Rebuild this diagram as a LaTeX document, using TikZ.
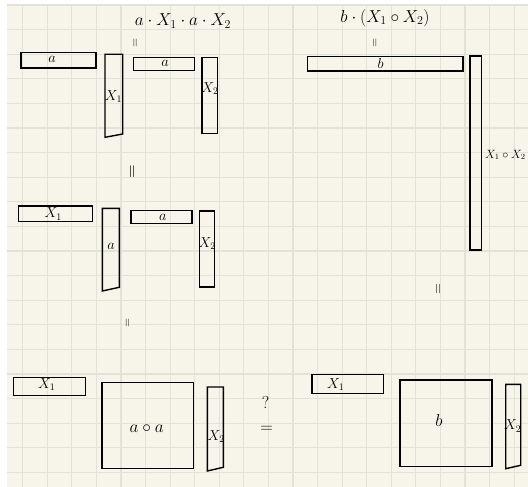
\documentclass[tikz,border=0pt]{standalone}
\usepackage{amsmath,amssymb}
\usepackage{tikz}
\definecolor{paper}{RGB}{247,245,234}
\definecolor{gridline}{RGB}{226,227,215}

\begin{document}
\begin{tikzpicture}[x=1pt, y=-1pt, every node/.style={font=\Large, inner sep=0pt},
	blk/.style={line width=1.4pt, line join=miter},
	head/.style={font=\LARGE},
	eqv/.style={rotate=90, font=\large}]
	\useasboundingbox (0,0) rectangle (528,487);
	\fill[white] (0,0) rectangle (528,487);
	\fill[paper] (7,4) rectangle (528,487);
	\foreach \i in {0,...,20} {
		\pgfmathsetmacro{\gx}{22.7+24.57*\i}
		\draw[gridline, line width=1.1pt] (\gx,4) -- (\gx,487);
	}
	\foreach \j in {0,...,19} {
		\pgfmathsetmacro{\gy}{5+24.6*\j}
		\draw[gridline, line width=1.1pt] (7,\gy) -- (528,\gy);
	}
	\node[head] (lhs) at (183,21) {$a\cdot X_1\cdot a\cdot X_2$};
	\node[eqv] (eqA) at (136,43) {$=$};
	\draw[blk] (21,52.3) rectangle (96,68);
	\node (ra) at (52,59.5) {$a$};
	\draw[blk] (105,54.3) -- (122.7,54.3) -- (122.7,134) -- (105,137.3) -- cycle;
	\node (rxa) at (113.5,96.7) {$X_1$};
	\draw[blk] (133.7,57.3) rectangle (194.7,70.3);
	\node (rb) at (165,63.5) {$a$};
	\draw[blk] (202,57.7) rectangle (217.7,133.3);
	\node (rxb) at (210,88.3) {$X_2$};
	\node[eqv, scale=1.5] (eqB) at (133.3,172) {$=$};
	\draw[blk] (18.3,206) rectangle (92.7,221.7);
	\node (sxa) at (53.3,214) {$X_1$};
	\draw[blk] (102.3,208.3) -- (119.3,208.3) -- (119.3,287.3) -- (102.3,291) -- cycle;
	\node (sa) at (111,246.7) {$a$};
	\draw[blk] (131,210.7) rectangle (192,223.7);
	\node (sb) at (162.7,217) {$a$};
	\draw[blk] (199.3,211) rectangle (214.3,287);
	\node (sxb) at (207.3,243.3) {$X_2$};
	\node[eqv] (eqC) at (128.3,323.3) {$=$};
	\draw[blk] (13.3,377.3) rectangle (85.7,395.7);
	\node (txa) at (46.7,384.5) {$X_1$};
	\draw[blk] (102,382.3) rectangle (193.7,468.7);
	\node[head] (taa) at (146.7,428.3) {$a\circ a$};
	\draw[blk] (207.3,387) -- (223.3,387) -- (223.3,467.3) -- (207.3,471) -- cycle;
	\node (txb) at (216.3,436.7) {$X_2$};
	\node[head] (qm) at (265.5,402) {?};
	\node[head] (qe) at (266.7,429.3) {$=$};
	\node[head] (rhs) at (385,18) {$b\cdot(X_1\circ X_2)$};
	\node[eqv] (eqD) at (375.7,43.3) {$=$};
	\draw[blk] (307.3,56.7) rectangle (463,71);
	\node (ub) at (380.7,63.5) {$b$};
	\draw[blk] (470,56) rectangle (481.7,250);
	\node[anchor=west, font=\large] (uxx) at (485,155) {$X_1\circ X_2$};
	\node[eqv, scale=1.2] (eqE) at (439,289.3) {$=$};
	\draw[blk] (312,374.7) rectangle (383.3,393.3);
	\node (vxa) at (335.7,384.5) {$X_1$};
	\draw[blk] (400,380) rectangle (492,466.7);
	\node[head] (vb) at (439,420) {$b$};
	\draw[blk] (505.7,384.3) -- (520.7,384.3) -- (520.7,465.3) -- (505.7,468.7) -- cycle;
	\node (vxb) at (512.7,426) {$X_2$};
\end{tikzpicture}
\end{document}
